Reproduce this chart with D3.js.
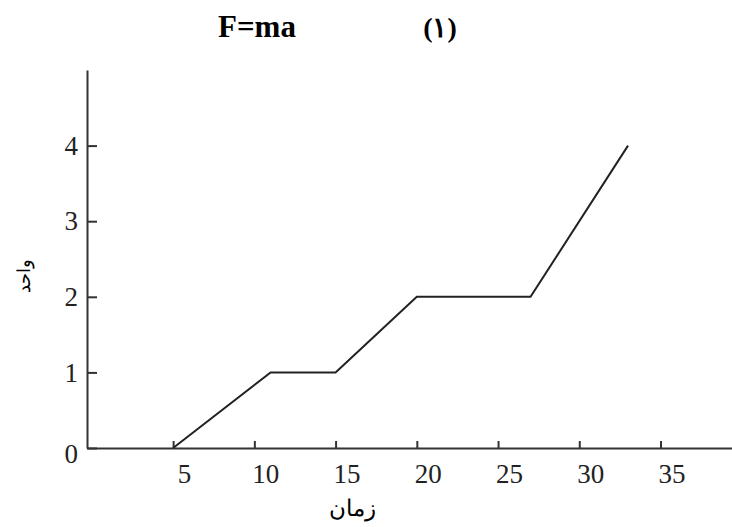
<!DOCTYPE html>
<html>
<head>
<meta charset="utf-8">
<script src="https://cdn.jsdelivr.net/npm/d3@7"></script>
<style>
  body { margin: 0; background: #fff; }
  svg { display: block; }
</style>
</head>
<body>
<svg id="chart_svg" width="732" height="527"></svg>
<script>
// values
var timeValues = [5, 11, 15, 20, 27, 33];
var unitValues = [0, 1, 1, 2, 2, 4];
var xTicks = [5, 10, 15, 20, 25, 30, 35];
var yTicks = [0, 1, 2, 3, 4];
var titleText = 'F=ma';
var numberText = '(۱)';
var xLabel = 'زمان';
var yLabel = 'واحد';

drawChart();

function drawChart() {
  var svg = d3.select('#chart_svg');
  var serif = '"Liberation Serif", "Times New Roman", serif';

  var x = d3.scaleLinear().domain([-0.3, 39.4]).range([87, 732]);
  var y = d3.scaleLinear().domain([0, 5]).range([448, 70]);

  // x axis, ticks pointing up, labels a bit right of the ticks
  var xAxis = svg.append('g')
    .attr('transform', 'translate(0,' + y(0) + ')')
    .call(d3.axisBottom(x).tickValues(xTicks).tickFormat(d3.format('d'))
      .tickSizeInner(-7).tickSizeOuter(0).tickPadding(16));
  xAxis.selectAll('text').attr('dx', 11);

  // y axis, ticks pointing right
  var yAxis = svg.append('g')
    .attr('transform', 'translate(' + x(-0.3) + ',0)')
    .call(d3.axisLeft(y).tickValues(yTicks).tickFormat(d3.format('d'))
      .tickSizeInner(-10).tickSizeOuter(0).tickPadding(9));
  yAxis.selectAll('.tick').filter(d => d === 0).select('text').attr('dy', '0.55em');

  svg.selectAll('.domain, .tick line').style('stroke', '#333').style('stroke-width', 2);
  svg.selectAll('.tick text')
    .style('font-family', serif)
    .style('font-size', '27px')
    .style('fill', '#222');

  // the line
  var pts = timeValues.map((t, i) => [t, unitValues[i]]);
  svg.append('path')
    .datum(pts)
    .attr('fill', 'none')
    .attr('stroke', '#222')
    .attr('stroke-width', 2)
    .attr('d', d3.line().x(d => x(d[0])).y(d => y(d[1])));

  // titles
  svg.append('text')
    .text(titleText)
    .attr('x', 218).attr('y', 37)
    .style('font-family', serif).style('font-weight', 'bold').style('font-size', '31px');

  svg.append('text')
    .text(numberText)
    .attr('x', 440).attr('y', 37)
    .attr('text-anchor', 'middle')
    .style('font-family', serif).style('font-weight', 'bold').style('font-size', '28px');

  svg.append('text')
    .text(xLabel)
    .attr('x', 352).attr('y', 516)
    .attr('text-anchor', 'middle')
    .style('font-family', serif).style('font-size', '23px');

  svg.append('text')
    .text(yLabel)
    .attr('transform', 'translate(30,276) rotate(-90)')
    .attr('text-anchor', 'middle')
    .style('font-family', serif).style('font-size', '18px');
}
</script>
</body>
</html>
